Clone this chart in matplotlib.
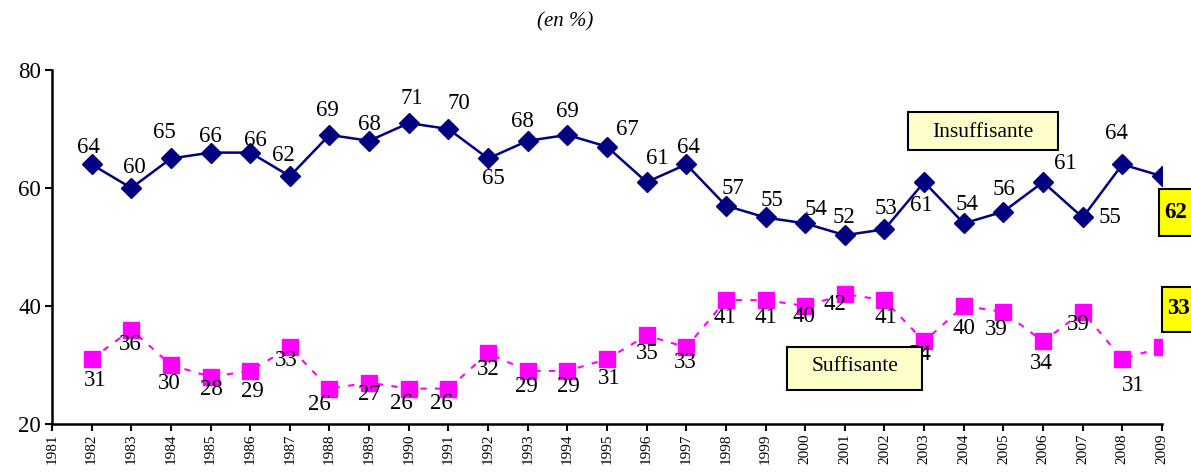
import numpy as np
import matplotlib.pyplot as plt

years = list(range(1982, 2010))
insuf = [64, 60, 65, 66, 66, 62, 69, 68, 71, 70, 65, 68, 69, 67, 61, 64,
         57, 55, 54, 52, 53, 61, 54, 56, 61, 55, 64, 62]
suff = [31, 36, 30, 28, 29, 33, 26, 27, 26, 26, 32, 29, 29, 31, 35, 33,
        41, 41, 40, 42, 41, 34, 40, 39, 34, 39, 31, 33]
xticks = list(range(1981, 2010))

# label offsets in pixels (dx, dy), None = no label
insuf_off = [(-3, 17), (3, 21), (-7, 26), (0, 16), (5, 12), (-6, 21), (-2, 24),
             (0, 16), (3, 25), (10, 25), (5, -20), (-5, 19), (0, 23), (20, 17),
             (11, 24), (2, 17), (7, 17), (6, 17), (11, 14), (-1, 18), (1, 21),
             (-3, -23), (3, 19), (1, 22), (22, 19), (27, 0), (-6, 31), None]
suff_off = [(4, -21), (-1, -15), (-2, -18), (1, -13), (2, -21), (-4, -13),
            (-10, -16), (0, -12), (-7, -15), (-7, -15), (0, -16), (-1, -16),
            (1, -16), (2, -19), (1, -18), (-1, -15), (-1, -17), (0, -17),
            (-1, -11), (-10, -10), (1, -17), (-4, -13), (0, -23), (-7, -18),
            (-2, -22), (-4, -13), (11, -26), None]

plt.rcParams['font.family'] = ['Liberation Serif', 'DejaVu Serif']

fig = plt.figure(figsize=(11.91, 4.73), dpi=100)
ax = fig.add_axes([52/1191, 1-424/473, 1110/1191, 354/473])

ax.plot(years, insuf, color='#000080', lw=1.8, marker='D', ms=10, zorder=3)
ax.plot(years, suff, color='#FF00FF', lw=1.5, ls=(0, (3, 4)), marker='s',
        ms=11.5, mec='#FF00FF', zorder=3)

for x, y, o in zip(years, insuf, insuf_off):
    if o is None:
        continue
    ax.annotate(str(y), (x, y), xytext=o, textcoords='offset pixels',
                ha='center', va='center', fontsize=16.5, zorder=5)
for x, y, o in zip(years, suff, suff_off):
    if o is None:
        continue
    ax.annotate(str(y), (x, y), xytext=o, textcoords='offset pixels',
                ha='center', va='center', fontsize=16.5, zorder=5)

ax.set_xlim(1981, 2009)
ax.set_ylim(20, 80)
ax.set_yticks([20, 40, 60, 80])
ax.set_xticks(xticks)
ax.set_xticklabels([str(t) for t in xticks], rotation=90, fontsize=11)
ax.tick_params(axis='y', labelsize=16.5, length=5, width=1.5, pad=3)
ax.tick_params(axis='x', length=5, width=1.5, pad=2)
for s in ['top', 'right']:
    ax.spines[s].set_visible(False)
for s in ['left', 'bottom']:
    ax.spines[s].set_linewidth(1.8)

fig.text(565/1191, 1-22/473, '(en %)', style='italic', fontsize=15,
         ha='center', va='center')

fig.patches.append(plt.Rectangle((908/1191, 1-150/473), 150/1191, 38/473,
                                 transform=fig.transFigure, fc='#FFFFCC',
                                 ec='black', lw=1.5, zorder=1))
fig.text(983/1191, 1-130/473, 'Insuffisante', fontsize=15.5, ha='center',
         va='center_baseline')
fig.patches.append(plt.Rectangle((787/1191, 1-390/473), 135/1191, 43/473,
                                 transform=fig.transFigure, fc='#FFFFCC',
                                 ec='black', lw=1.5, zorder=10))
fig.text(855/1191, 1-364/473, 'Suffisante', fontsize=15.5, ha='center',
         va='center_baseline', zorder=11)
fig.patches.append(plt.Rectangle((1159/1191, 1-236/473), 40/1191, 47/473,
                                 transform=fig.transFigure, fc='#FFFF00',
                                 ec='black', lw=1.5, zorder=10))
fig.text(1176/1191, 1-212/473, str(insuf[-1]), fontsize=16.5, weight='bold',
         ha='center', va='center', zorder=11)
fig.patches.append(plt.Rectangle((1162/1191, 1-332/473), 40/1191, 45/473,
                                 transform=fig.transFigure, fc='#FFFF00',
                                 ec='black', lw=1.5, zorder=10))
fig.text(1179/1191, 1-309/473, str(suff[-1]), fontsize=16.5, weight='bold',
         ha='center', va='center', zorder=11)

fig.savefig('out.png', dpi=100)
